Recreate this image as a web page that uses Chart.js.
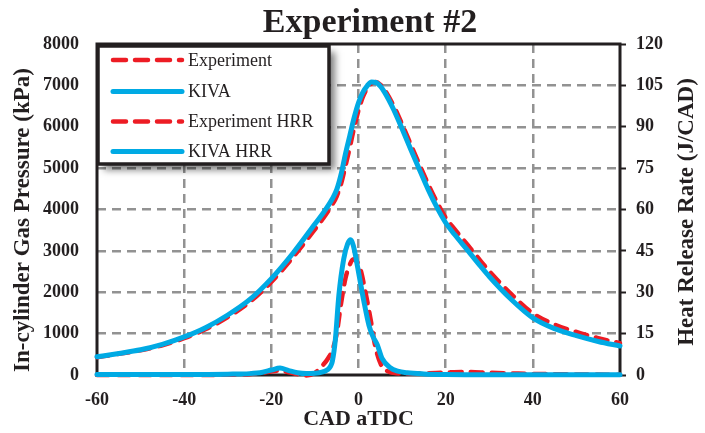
<!DOCTYPE html>
<html>
<head>
<meta charset="utf-8">
<script src="https://cdn.jsdelivr.net/npm/chart.js@4.4.1/dist/chart.umd.min.js"></script>
<style>
  html, body { margin: 0; padding: 0; background: #ffffff; }
  canvas { display: block; }
</style>
</head>
<body>
<canvas id="chart" width="705" height="433"></canvas>
<script>
// Crank angle (deg aTDC) for the pressure traces
const pressureCad = [-60,-55,-50,-45,-40,-35,-30,-25,-20,-15,-10,-8,-6,-5,-4,-3,-2,-1,0,1,2,3,4,5,6,8,10,12,14,16,18,20,22,25,28,30,35,40,45,50,55,60];
// In-cylinder pressure, kPa
const experimentPressure = [430,510,600,720,890,1110,1400,1760,2250,2850,3520,3800,4120,4320,4620,5050,5500,5980,6400,6720,6930,7050,7080,7020,6890,6520,6060,5570,5080,4610,4180,3800,3530,3150,2760,2510,1960,1490,1220,1040,890,770];
const kivaPressure = [440,520,610,740,920,1150,1450,1820,2330,2950,3650,3930,4260,4480,4850,5340,5780,6220,6580,6830,6990,7080,7070,6980,6830,6430,5950,5450,4960,4480,4050,3680,3400,3020,2630,2380,1830,1380,1120,950,810,700];

// Heat release rate, J/CAD
const hrrCadExperiment = [-60,-40,-30,-25,-22,-20,-18,-16,-14,-12,-10,-8.5,-7,-6,-5,-4,-3,-2,-1.2,-0.3,0.5,1.6,2.8,3.9,5.4,7,8,10,15,20,25,30,35,40,50,60];
const experimentHrr = [0,0,0.1,0.3,0.8,1.3,1.6,1.0,0.3,-0.2,0.8,3,6,9,15,26,35,40,42,41,38,30,20,10,3,1.2,0.8,0.5,0.6,0.9,1.1,0.8,0.6,0.4,0.2,0.1];
const hrrCadKiva = [-60,-40,-30,-25,-22,-20,-18,-16,-14,-12,-10,-9,-8,-7,-6.4,-6,-5.3,-4.5,-3.4,-2.5,-1.8,-1.2,-0.3,0.5,1.2,2.4,3.3,4.3,5.4,7.3,9,11.2,15,20,30,40,50,60];
const kivaHrr = [0.2,0.2,0.3,0.5,1.0,1.8,2.5,1.6,0.8,0.5,0.6,0.8,1.2,2.0,3.2,5,13,29,42,47.5,49,47,40,33,27,18,14,11,6,2.6,1.4,0.8,0.4,0.2,0.1,0.1,0.1,0.1];

// Axis ticks
const cadTicks = [-60,-40,-20,0,20,40,60];
const pressureTicks = [0,1000,2000,3000,4000,5000,6000,7000,8000];
const hrrTicks = [0,15,30,45,60,75,90,105,120];

const seriesNames = ['Experiment','KIVA','Experiment HRR','KIVA HRR'];
const chartTitle = 'Experiment #2';
const xTitle = 'CAD aTDC';
const leftTitle = 'In-cylinder Gas Pressure (kPa)';
const rightTitle = 'Heat Release Rate (J/CAD)';

const RED = '#ED1C24';
const BLUE = '#00AAE4';
const INK = '#231F20';
const GRID = '#929292';
const SERIF = "'Liberation Serif', 'Times New Roman', serif";

const pairs = (xs, ys) => xs.map((x, i) => ({ x: x, y: ys[i] }));

const redLine = { borderColor: RED, borderWidth: 4.5, borderDash: [12, 9], borderCapStyle: 'round', borderJoinStyle: 'round', order: 1 };
const blueLine = { borderColor: BLUE, borderWidth: 5, borderCapStyle: 'round', borderJoinStyle: 'round', order: 0 };

const hideEdge = (lo, hi) => (ctx) => {
  const v = ctx.tick ? ctx.tick.value : null;
  return (v === lo || v === hi) ? 'rgba(0,0,0,0)' : GRID;
};

const setTicks = (values) => (scale) => { scale.ticks = values.map(v => ({ value: v })); };
const plainLabel = (value) => String(value);

// Plot frame drawn under the curves
const framePlugin = {
  id: 'frame',
  beforeDatasetsDraw(chart) {
    const { ctx, chartArea: a } = chart;
    ctx.save();
    ctx.strokeStyle = INK;
    ctx.lineWidth = 3;
    ctx.strokeRect(a.left, a.top, a.right - a.left, a.bottom - a.top);
    ctx.restore();
  }
};

// Title and vertical axis titles
const textPlugin = {
  id: 'texts',
  afterDraw(chart) {
    const { ctx } = chart;
    ctx.save();
    ctx.fillStyle = INK;
    ctx.textAlign = 'center';
    ctx.textBaseline = 'middle';
    ctx.font = 'bold 34px ' + SERIF;
    ctx.fillText(chartTitle, 370, 23);
    ctx.font = 'bold 23px ' + SERIF;
    ctx.save();
    ctx.translate(23, 220);
    ctx.rotate(-Math.PI / 2);
    ctx.fillText(leftTitle, 0, 0);
    ctx.restore();
    ctx.save();
    ctx.translate(687, 212);
    ctx.rotate(-Math.PI / 2);
    ctx.fillText(rightTitle, 0, 0);
    ctx.restore();
    ctx.restore();
  }
};

// Boxed legend with drop shadow in the upper-left of the plot
const legendPlugin = {
  id: 'boxLegend',
  afterDraw(chart) {
    const { ctx, chartArea: a } = chart;
    const x = a.left + 1, y = a.top + 2, w = 231, h = 118;
    ctx.save();
    ctx.shadowColor = 'rgba(0,0,0,0.5)';
    ctx.shadowBlur = 7;
    ctx.shadowOffsetX = 6;
    ctx.shadowOffsetY = 6;
    ctx.fillStyle = '#ffffff';
    ctx.fillRect(x, y, w, h);
    ctx.restore();
    ctx.save();
    ctx.strokeStyle = INK;
    ctx.lineWidth = 3.5;
    ctx.strokeRect(x, y, w, h);
    const rows = [60, 91.5, 121.5, 151.5];
    chart.data.datasets.forEach((ds, i) => {
      const ry = rows[i];
      ctx.beginPath();
      ctx.strokeStyle = ds.borderColor;
      ctx.lineWidth = ds.borderWidth;
      ctx.lineCap = 'round';
      ctx.setLineDash(ds.borderDash ? [13, 9] : []);
      ctx.moveTo(a.left + 16, ry);
      ctx.lineTo(a.left + 85, ry);
      ctx.stroke();
      ctx.setLineDash([]);
      ctx.fillStyle = INK;
      ctx.font = '18px ' + SERIF;
      ctx.textAlign = 'left';
      ctx.textBaseline = 'middle';
      ctx.fillText(ds.label, a.left + 91, ry + 1);
    });
    ctx.restore();
  }
};

new Chart(document.getElementById('chart'), {
  type: 'line',
  data: {
    datasets: [
      Object.assign({ label: seriesNames[0], data: pairs(pressureCad, experimentPressure), yAxisID: 'y' }, redLine),
      Object.assign({ label: seriesNames[1], data: pairs(pressureCad, kivaPressure), yAxisID: 'y' }, blueLine),
      Object.assign({ label: seriesNames[2], data: pairs(hrrCadExperiment, experimentHrr), yAxisID: 'y2' }, redLine),
      Object.assign({ label: seriesNames[3], data: pairs(hrrCadKiva, kivaHrr), yAxisID: 'y2' }, blueLine)
    ]
  },
  options: {
    responsive: false,
    animation: false,
    devicePixelRatio: 1,
    layout: { padding: { top: 44, left: 0, right: 0, bottom: 0 } },
    elements: {
      point: { radius: 0, hoverRadius: 0 },
      line: { cubicInterpolationMode: 'monotone', fill: false }
    },
    datasets: { line: { clip: 8 } },
    plugins: {
      legend: { display: false },
      title: { display: false },
      tooltip: { enabled: false }
    },
    scales: {
      x: {
        type: 'linear',
        min: -60, max: 60,
        afterBuildTicks: setTicks(cadTicks),
        afterFit: (s) => { s.height = 58; },
        grid: { color: hideEdge(-60, 60), lineWidth: 2.5, drawTicks: false },
        border: { display: false, dash: [9, 6] },
        ticks: { color: INK, padding: 15, callback: plainLabel, font: { family: SERIF, size: 18, weight: 'bold' }, maxRotation: 0 },
        title: { display: true, text: xTitle, color: INK, padding: { top: 0, bottom: 0 }, font: { family: SERIF, size: 22, weight: 'bold' } }
      },
      y: {
        type: 'linear',
        position: 'left',
        min: 0, max: 8000,
        afterBuildTicks: setTicks(pressureTicks),
        afterFit: (s) => { s.width = 97; },
        grid: { color: hideEdge(0, 8000), lineWidth: 2.5, drawTicks: false },
        border: { display: false, dash: [9, 6] },
        ticks: { color: INK, padding: 18, callback: plainLabel, font: { family: SERIF, size: 18, weight: 'bold' } }
      },
      y2: {
        type: 'linear',
        position: 'right',
        min: 0, max: 120,
        afterBuildTicks: setTicks(hrrTicks),
        afterFit: (s) => { s.width = 85; },
        grid: { drawOnChartArea: false, drawTicks: true, tickLength: 6, tickColor: INK, tickWidth: 2 },
        border: { display: false },
        ticks: { color: INK, padding: 10, callback: plainLabel, font: { family: SERIF, size: 18, weight: 'bold' } }
      }
    }
  },
  plugins: [framePlugin, textPlugin, legendPlugin]
});
</script>
</body>
</html>
